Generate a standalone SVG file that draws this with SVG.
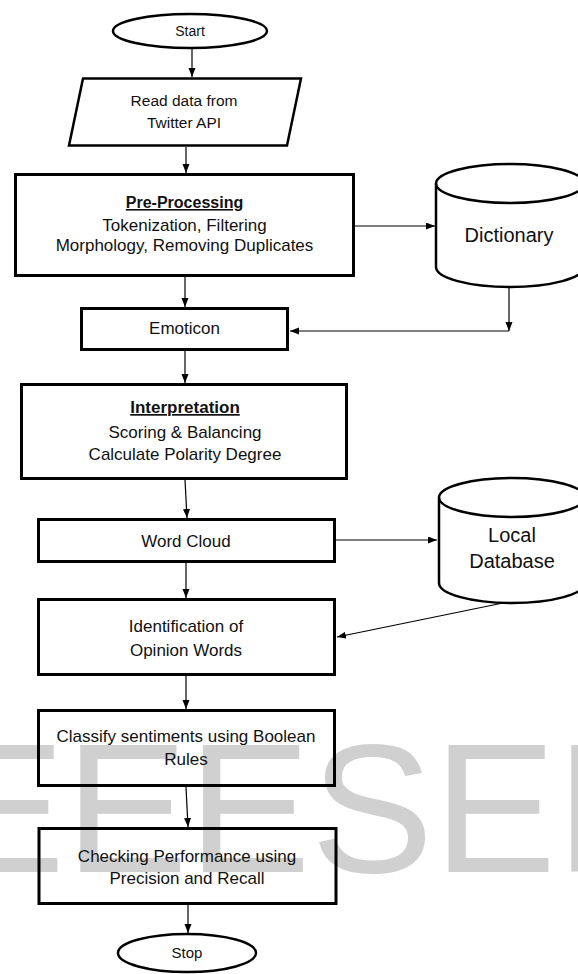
<svg xmlns="http://www.w3.org/2000/svg" width="578" height="974" viewBox="0 0 578 974">
<style>
  .box{fill:none;stroke:#000;stroke-width:3}
  .term{fill:none;stroke:#000;stroke-width:2.5}
  .cyl{fill:none;stroke:#000;stroke-width:2.5}
  .conn{fill:none;stroke:#000;stroke-width:1.2;marker-end:url(#arr)}
  text{font-family:"Liberation Sans",Arial,sans-serif;fill:#111;text-anchor:middle}
  .t{font-size:17px}
  .b{font-size:16px;font-weight:bold;text-decoration:underline}
  .db{font-size:20px}
  .wm{font-size:184px;fill:#d0d0d0;text-anchor:start}
</style>
<defs>
  <marker id="arr" markerUnits="userSpaceOnUse" markerWidth="10" markerHeight="8" refX="9" refY="3.5" orient="auto">
    <path d="M0,0 L9,3.5 L0,7 z" fill="#000"/>
  </marker>
</defs>
<rect width="578" height="974" fill="#fff"/>
<g id="watermark"><text class="wm" x="-57.5" y="872">EEESER</text></g>

<g id="connectors">
  <line class="conn" x1="192" y1="48" x2="192" y2="77"/>
  <line class="conn" x1="186" y1="147" x2="186" y2="173"/>
  <line class="conn" x1="185" y1="277" x2="185" y2="307"/>
  <line class="conn" x1="185" y1="351" x2="185" y2="383"/>
  <line class="conn" x1="185" y1="480" x2="187" y2="518"/>
  <line class="conn" x1="186" y1="562" x2="186" y2="598"/>
  <line class="conn" x1="186" y1="676" x2="186" y2="709"/>
  <line class="conn" x1="186" y1="787" x2="188" y2="827"/>
  <line class="conn" x1="188" y1="905" x2="188" y2="933"/>
  <line class="conn" x1="355" y1="226" x2="435" y2="226"/>
  <line class="conn" x1="509" y1="287" x2="509" y2="331"/>
  <line class="conn" x1="509" y1="331" x2="290" y2="331"/>
  <line class="conn" x1="336" y1="540" x2="437" y2="540"/>
  <line class="conn" x1="503" y1="603" x2="337" y2="637"/>
</g>

<g id="start">
  <ellipse class="term" cx="190" cy="31" rx="77" ry="17"/>
  <text x="190" y="36" style="font-size:14px">Start</text>
</g>
<g id="read">
  <polygon class="term" points="83,78.5 301,78.5 287,145.5 69,145.5"/>
  <text class="t" x="184" y="106" style="font-size:15.5px">Read data from</text>
  <text class="t" x="184" y="128" style="font-size:15.5px">Twitter API</text>
</g>
<g id="preprocessing">
  <rect class="box" x="15.5" y="174.5" width="338" height="101"/>
  <text class="b" x="184.5" y="208">Pre-Processing</text>
  <text class="t" x="184.5" y="231">Tokenization, Filtering</text>
  <text class="t" x="184.5" y="251">Morphology, Removing Duplicates</text>
</g>
<g id="dictionary">
  <path class="cyl" d="M436,183.5 L436,267 A74,20 0 0 0 584,267 L584,183.5"/>
  <ellipse class="cyl" cx="510" cy="183.5" rx="74" ry="19.5"/>
  <text class="db" x="509" y="241.5">Dictionary</text>
</g>
<g id="emoticon">
  <rect class="box" x="81.5" y="308.5" width="206" height="41"/>
  <text class="t" x="184.5" y="334">Emoticon</text>
</g>
<g id="interpretation">
  <rect class="box" x="21.5" y="384.5" width="325" height="94"/>
  <text class="b" x="185" y="413" style="font-size:17px">Interpretation</text>
  <text class="t" x="185" y="438">Scoring &amp; Balancing</text>
  <text class="t" x="185" y="460">Calculate Polarity Degree</text>
</g>
<g id="wordcloud">
  <rect class="box" x="38.5" y="519.5" width="296" height="42"/>
  <text class="t" x="186" y="546.5">Word Cloud</text>
</g>
<g id="localdb">
  <path class="cyl" d="M439,497.5 L439,583 A73,20 0 0 0 585,583 L585,497.5"/>
  <ellipse class="cyl" cx="512" cy="497.5" rx="73" ry="19.5"/>
  <text class="db" x="512" y="542">Local</text>
  <text class="db" x="512" y="568">Database</text>
</g>
<g id="identification">
  <rect class="box" x="38.5" y="599.5" width="296" height="75"/>
  <text class="t" x="186" y="632">Identification of</text>
  <text class="t" x="186" y="656">Opinion Words</text>
</g>
<g id="classify">
  <rect class="box" x="38.5" y="710.5" width="296" height="75"/>
  <text class="t" x="186" y="742">Classify sentiments using Boolean</text>
  <text class="t" x="186" y="765">Rules</text>
</g>
<g id="checking">
  <rect class="box" x="39" y="828.5" width="297" height="75"/>
  <text class="t" x="187" y="862">Checking Performance using</text>
  <text class="t" x="187" y="884">Precision and Recall</text>
</g>
<g id="stop">
  <ellipse class="term" cx="187" cy="953" rx="69" ry="19"/>
  <text x="187" y="958" style="font-size:15px">Stop</text>
</g>
</svg>
